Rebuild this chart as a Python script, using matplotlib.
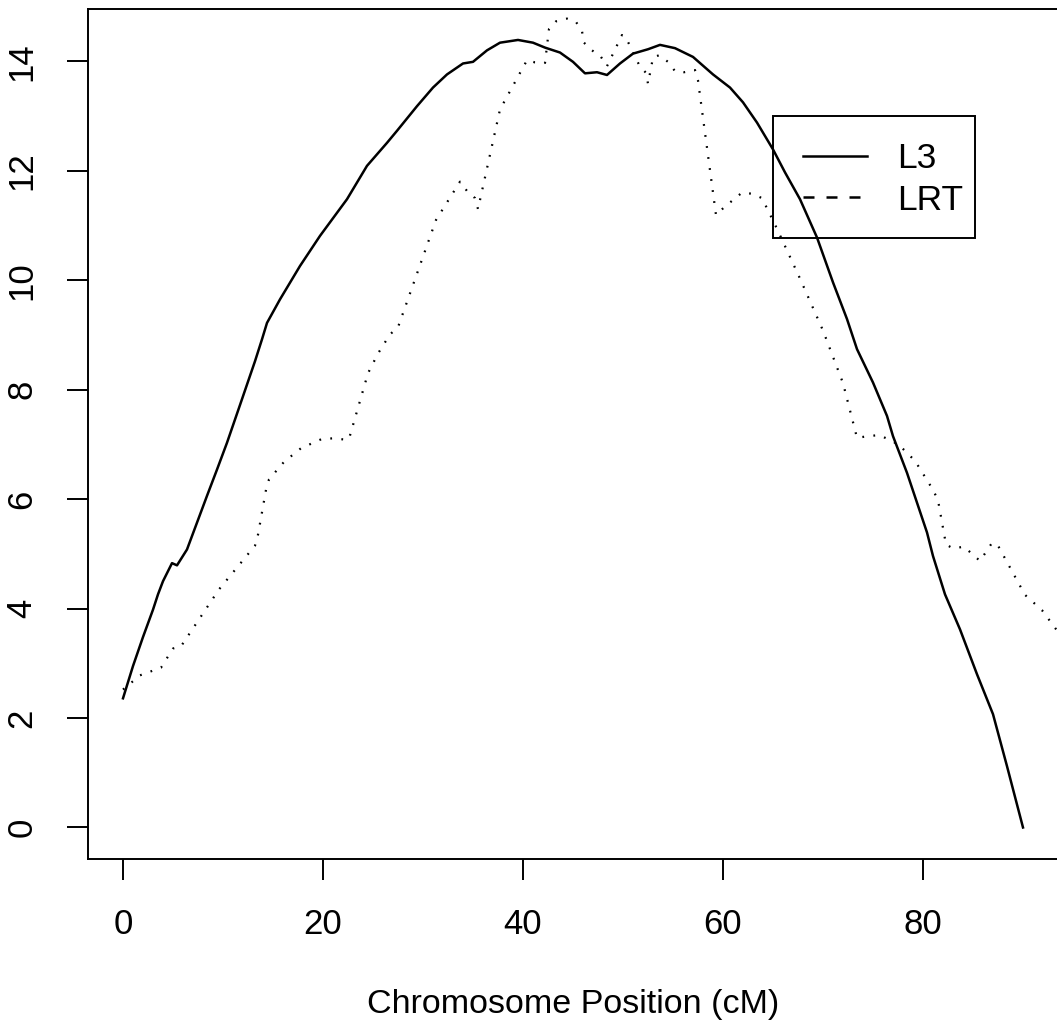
import matplotlib
matplotlib.use('Agg')
import matplotlib.pyplot as plt
from matplotlib.lines import Line2D
from matplotlib.patches import Rectangle

plt.rcParams['font.family'] = ['Liberation Sans', 'DejaVu Sans']

# L3 profile (solid line)
pos_l3 = [0, 1.0, 2.0, 3.0, 3.5, 4.0, 4.9, 5.4, 6.4, 7.4, 8.4, 9.4, 10.4, 11.7, 13.2,
          13.9, 14.4, 15.7, 17.7, 19.7, 22.4, 24.4, 26.4, 27.4, 29.4, 31.0, 32.4, 34.0,
          35.0, 36.4, 37.7, 39.5, 41.0, 42.2, 43.7, 45.0, 46.2, 47.4, 48.4, 49.7, 51.0,
          52.5, 53.7, 55.2, 57.0, 59.0, 60.7, 62.0, 63.4, 65.0, 66.2, 67.7, 69.4, 71.0,
          72.4, 73.4, 75.0, 76.4, 77.0, 78.4, 80.4, 81.0, 82.2, 83.7, 85.4, 87.0, 88.4, 90.0]
l3 = [2.36, 2.95, 3.48, 3.98, 4.26, 4.50, 4.83, 4.79, 5.08, 5.57, 6.06, 6.54, 7.03, 7.72,
      8.52, 8.92, 9.22, 9.65, 10.26, 10.81, 11.48, 12.09, 12.51, 12.73, 13.18, 13.52, 13.76,
      13.96, 13.99, 14.20, 14.34, 14.39, 14.34, 14.25, 14.16, 13.99, 13.78, 13.80, 13.75,
      13.96, 14.14, 14.22, 14.30, 14.24, 14.08, 13.76, 13.52, 13.25, 12.88, 12.39, 11.97,
      11.48, 10.78, 9.96, 9.29, 8.74, 8.13, 7.52, 7.15, 6.48, 5.39, 4.96, 4.26, 3.62, 2.80,
      2.07, 1.12, 0.0]

# LRT profile (dotted line)
pos_lrt = [0, 1.7, 3.8, 5.0, 5.8, 9.6, 13.2, 13.5, 14.3, 14.6, 16.1, 17.8, 19.9, 21.0,
           22.1, 22.6, 24.5, 25.5, 26.7, 27.5, 31.3, 32.5, 33.7, 34.4, 35.2, 35.5, 37.7,
           40.4, 41.2, 42.2, 42.6, 43.3, 44.4, 45.3, 45.9, 46.1, 46.9, 47.8, 48.4, 49.9,
           50.3, 51.7, 52.3, 52.5, 53.0, 53.6, 54.5, 55.2, 56.1, 57.2, 57.5, 59.3, 60.1,
           61.9, 62.9, 63.9, 65.4, 67.7, 70.0, 72.0, 73.4, 74.5, 75.6, 76.7, 77.6, 79.2,
           81.0, 81.5, 82.3, 83.0, 84.1, 85.7, 86.9, 87.5, 90.2, 91.9, 93.6]
lrt = [2.52, 2.78, 2.92, 3.27, 3.31, 4.35, 5.15, 5.35, 6.17, 6.36, 6.68, 6.93, 7.10, 7.11,
       7.09, 7.10, 8.30, 8.66, 9.01, 9.14, 11.10, 11.45, 11.80, 11.63, 11.50, 11.30, 13.12,
       14.02, 13.98, 13.97, 14.59, 14.73, 14.78, 14.72, 14.55, 14.34, 14.20, 14.08, 13.91,
       14.48, 14.43, 13.90, 13.79, 13.59, 14.07, 14.11, 13.99, 13.82, 13.80, 13.84, 13.65,
       11.19, 11.33, 11.60, 11.58, 11.50, 10.94, 10.03, 9.08, 8.12, 7.12, 7.15, 7.17, 7.08,
       6.99, 6.70, 6.17, 5.98, 5.17, 5.10, 5.13, 4.87, 5.20, 5.15, 4.25, 3.97, 3.55]

x_ticks = [0, 20, 40, 60, 80]
y_ticks = [0, 2, 4, 6, 8, 10, 12, 14]
labels = ['L3', 'LRT']

W, H = 1057, 1028
fig = plt.figure(figsize=(W / 100, H / 100), dpi=100)
# plot box; right edge sits just past the image border like the original
ax = fig.add_axes([87.5 / W, (H - 859) / H, (1058.5 - 87.5) / W, (859 - 9.3) / H])

l3_line, = ax.plot(pos_l3, l3, color='black', lw=1.8)
ax.plot(pos_lrt, lrt, color='black', lw=1.6, linestyle=(0, (0.8, 4.2)))

ax.set_xlim(-3.55, 93.55)
ax.set_ylim(-0.576, 14.95)
ax.set_xticks(x_ticks)
ax.set_yticks(y_ticks)
ax.tick_params(length=15, width=1.4, labelsize=25, pad=20.5, direction='out')
ax.tick_params(axis='y', labelrotation=90)
for lbl in ax.get_yticklabels():
    lbl.set_va('center')
for sp in ax.spines.values():
    sp.set_linewidth(1.4)

ax.set_xlabel('Chromosome Position (cM)', fontsize=24.5)
ax.xaxis.set_label_coords(0.5, -0.1707)
ax.xaxis.label.set_va('center')

# legend entries without frame, the R-style box is drawn separately
lrt_handle = Line2D([], [], color='black', lw=1.8, dashes=(4.4, 4.8))
leg = ax.legend([l3_line, lrt_handle], labels, loc='upper left',
                bbox_to_anchor=(803 / W, 1 - 142 / H), bbox_transform=fig.transFigure,
                frameon=False, fontsize=25.5, handlelength=1.8, handletextpad=0.86,
                borderpad=0, labelspacing=0.24, borderaxespad=0)
fig.patches.append(Rectangle((773.3 / W, 1 - 238.3 / H), (975 - 773.3) / W, (238.3 - 115.7) / H,
                             transform=fig.transFigure, fill=False, edgecolor='black', lw=1.4))

fig.savefig('out.png', dpi=100)
